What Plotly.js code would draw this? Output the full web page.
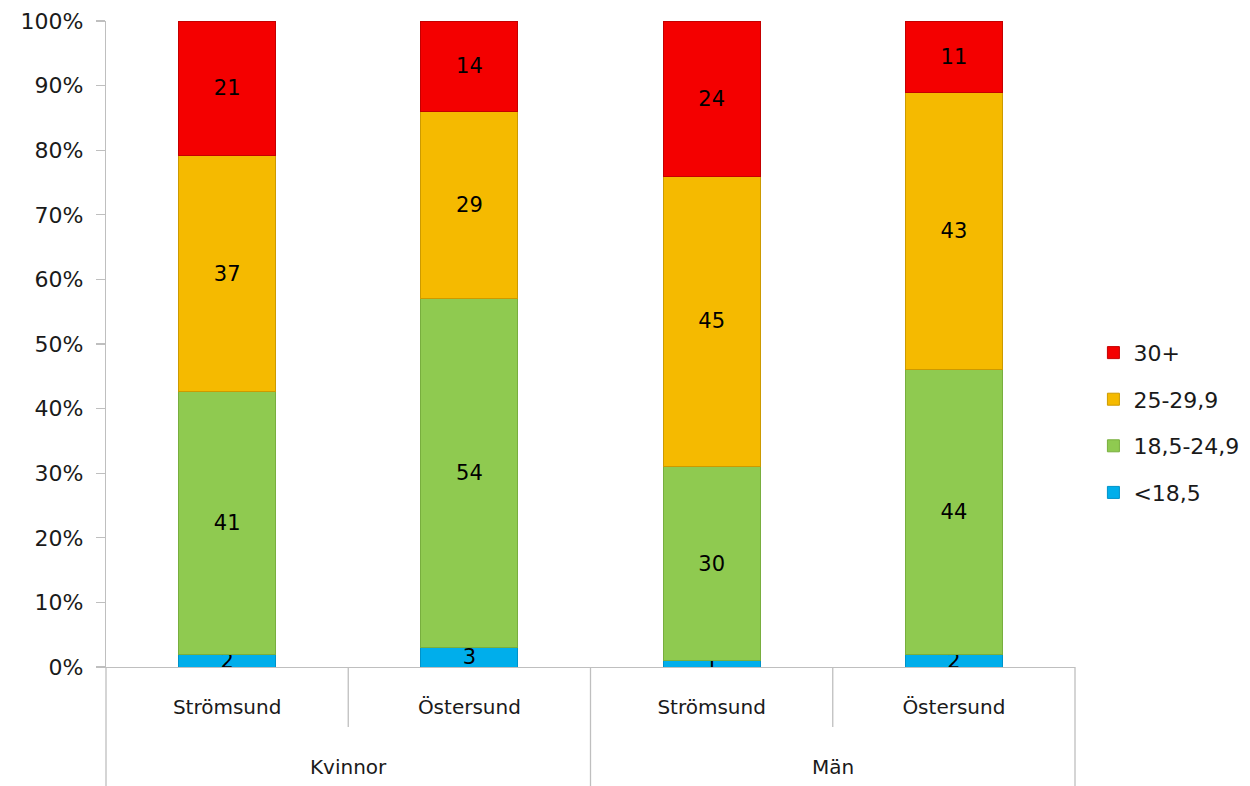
<!DOCTYPE html>
<html>
<head>
<meta charset="utf-8">
<script src="https://cdn.plot.ly/plotly-3.0.1.min.js"></script>
<style>
  html, body { margin: 0; padding: 0; background: #ffffff; }
  #chart { width: 1250px; height: 786px; }
</style>
</head>
<body>
<div id="chart"></div>
<script>
// Grouping of the bars: sex (outer level) and municipality (inner level)
const groups = ["Kvinnor", "Kvinnor", "Män", "Män"];
const places = ["Strömsund", "Östersund", "Strömsund", "Östersund"];

// BMI class shares (%) per bar
const seriesNames = ["<18,5", "18,5-24,9", "25-29,9", "30+"];
const under185 = [2, 3, 1, 2];
const normal185to249 = [41, 54, 30, 44];
const over25to299 = [37, 29, 45, 43];
const obese30 = [21, 14, 24, 11];

const seriesValues = [under185, normal185to249, over25to299, obese30];
const fills = ["#00AEEB", "#8FCA50", "#F5BA00", "#F40000"];
const edges = ["#0092C8", "#78AE3E", "#CC9A00", "#C40000"];

const FONT = "DejaVu Sans, sans-serif";

// Bars sit at index positions along the x axis; labels come from the arrays above
const idx = places.map((_, i) => i);

const traces = seriesValues.map((vals, i) => ({
  type: "bar",
  name: seriesNames[i],
  legendgroup: "g" + i,
  legendrank: seriesValues.length - i,
  x: idx,
  y: vals,
  text: vals.map(String),
  textposition: "inside",
  insidetextanchor: "middle",
  textangle: 0,
  constraintext: "none",
  textfont: { family: FONT, size: 21, color: "#000000" },
  marker: { color: fills[i], line: { color: edges[i], width: 1 } },
  hoverinfo: "skip"
}));

// Outer group labels centred under their bars
const groupNames = [...new Set(groups)];
const groupAnnotations = groupNames.map(g => {
  const members = idx.filter(i => groups[i] === g);
  const centre = members.reduce((a, b) => a + b, 0) / members.length;
  return {
    x: centre, xref: "x", y: -0.155, yref: "paper",
    text: g, showarrow: false, yanchor: "middle",
    font: { family: FONT, size: 20, color: "#1a1a1a" }
  };
});

// Frame lines under the plot separating the category labels
const divider = (xp, y1) => ({
  type: "line", xref: "paper", yref: "paper",
  x0: xp, x1: xp, y0: 0, y1: y1,
  line: { color: "#BFBFBF", width: 1.3 }
});
const shapes = [
  divider(0, -0.19),
  divider(0.25, -0.093),
  divider(0.5, -0.19),
  divider(0.75, -0.093),
  divider(1, -0.19)
];

const layout = {
  width: 1250,
  height: 786,
  margin: { l: 106, r: 175, t: 21, b: 119, autoexpand: false },
  paper_bgcolor: "#ffffff",
  plot_bgcolor: "#ffffff",
  barmode: "stack",
  barnorm: "percent",
  bargap: 0.6,
  font: { family: FONT, size: 20, color: "#1a1a1a" },
  xaxis: {
    type: "linear",
    range: [-0.5, places.length - 0.5],
    tickmode: "array",
    tickvals: idx,
    ticktext: places,
    showgrid: false,
    zeroline: false,
    showline: true,
    linecolor: "#BFBFBF",
    linewidth: 1.3,
    ticks: "",
    ticklabelstandoff: 22,
    tickfont: { family: FONT, size: 20, color: "#1a1a1a" },
    fixedrange: true
  },
  yaxis: {
    range: [0, 100],
    dtick: 10,
    ticksuffix: "%",
    showgrid: false,
    zeroline: false,
    showline: true,
    linecolor: "#BFBFBF",
    linewidth: 1.3,
    ticks: "outside",
    ticklen: 9,
    tickcolor: "#BFBFBF",
    tickwidth: 1.3,
    ticklabelstandoff: 8,
    tickfont: { family: FONT, size: 22, color: "#1a1a1a" },
    fixedrange: true
  },
  legend: {
    x: 1.019,
    xanchor: "left",
    y: 0.378,
    yanchor: "middle",
    traceorder: "grouped",
    tracegroupgap: 15,
    itemwidth: 30,
    font: { family: FONT, size: 22, color: "#1a1a1a" },
    bgcolor: "rgba(0,0,0,0)"
  },
  annotations: groupAnnotations,
  shapes: shapes,
  showlegend: true
};

Plotly.newPlot("chart", traces, layout, { displayModeBar: false, staticPlot: true });
</script>
</body>
</html>
